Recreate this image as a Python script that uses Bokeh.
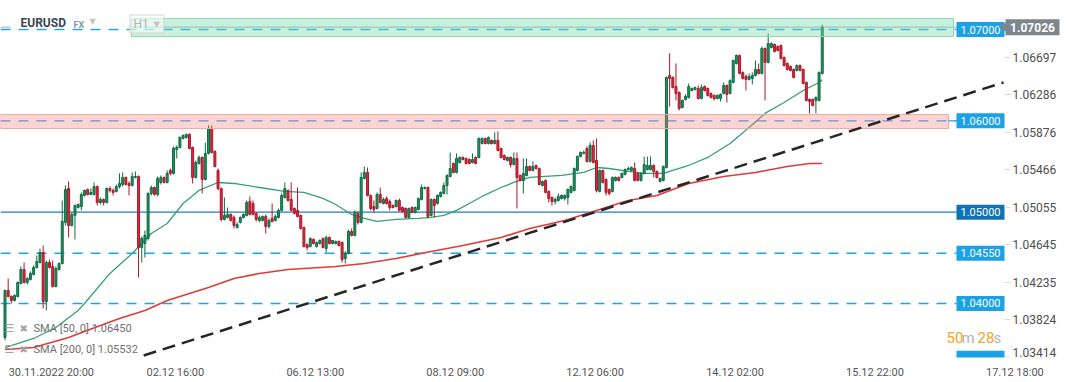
import math
from bokeh.plotting import figure
from bokeh.models import Range1d, FixedTicker, PrintfTickFormatter
from bokeh.models import ColumnDataSource
from bokeh.embed import file_html
from bokeh.resources import INLINE
from bokeh.core.properties import value

# ---------------- data (EURUSD, H1 candles) ----------------
opens = [1.03628, 1.04143, 1.04077, 1.04033, 1.04077, 1.04219, 1.04372, 1.04230, 1.04263, 1.04318,
         1.04394, 1.04449, 1.04559, 1.04022, 1.04449, 1.04405, 1.04186, 1.04372, 1.04438, 1.04887,
         1.05259, 1.04854, 1.04964, 1.05051, 1.05062, 1.05183, 1.05248, 1.05194, 1.05194, 1.05281,
         1.05106, 1.05139, 1.05106, 1.05259, 1.05238, 1.05227, 1.05281, 1.05303, 1.05380, 1.05314,
         1.05292, 1.05380, 1.05391, 1.04613, 1.04657, 1.04712, 1.05205, 1.05270, 1.05194, 1.05325,
         1.05380, 1.05325, 1.05457, 1.05424, 1.05686, 1.05708, 1.05807, 1.05818, 1.05851, 1.05708,
         1.05380, 1.05533, 1.05599, 1.05358, 1.05643, 1.05916, 1.05665, 1.05457, 1.05259, 1.04920,
         1.04942, 1.04975, 1.04942, 1.04832, 1.04887, 1.04942, 1.04964, 1.05117, 1.05095, 1.04986,
         1.04909, 1.04909, 1.04953, 1.04843, 1.04931, 1.04909, 1.04942, 1.05019, 1.05161, 1.05238,
         1.05139, 1.05040, 1.05019, 1.04964, 1.04832, 1.04646, 1.04624, 1.04701, 1.04624, 1.04657,
         1.04712, 1.04602, 1.04723, 1.04657, 1.04657, 1.04679, 1.04668, 1.04493, 1.04548, 1.04789,
         1.04745, 1.04986, 1.04887, 1.05369, 1.05435, 1.05183, 1.05062, 1.05040, 1.05194, 1.05095,
         1.05150, 1.05117, 1.05073, 1.05062, 1.05128, 1.05051, 1.05040, 1.04942, 1.05051, 1.04997,
         1.05029, 1.05139, 1.05259, 1.05270, 1.04964, 1.05139, 1.05095, 1.05172, 1.05205, 1.05292,
         1.05391, 1.05533, 1.05435, 1.05544, 1.05599, 1.05588, 1.05577, 1.05544, 1.05599, 1.05599,
         1.05752, 1.05807, 1.05752, 1.05785, 1.05752, 1.05785, 1.05697, 1.05621, 1.05566, 1.05599,
         1.05522, 1.05588, 1.05402, 1.05347, 1.05402, 1.05500, 1.05457, 1.05511, 1.05478, 1.05292,
         1.05347, 1.05227, 1.05161, 1.05117, 1.05128, 1.05150, 1.05150, 1.05161, 1.05216, 1.05238,
         1.05457, 1.05610, 1.05643, 1.05697, 1.05555, 1.05730, 1.05566, 1.05227, 1.05457, 1.05358,
         1.05248, 1.05227, 1.05347, 1.05380, 1.05380, 1.05413, 1.05467, 1.05457, 1.05478, 1.05424,
         1.05347, 1.05424, 1.05467, 1.05467, 1.05511, 1.05446, 1.05336, 1.05347, 1.05489, 1.06497,
         1.06475, 1.06376, 1.06311, 1.06146, 1.06234, 1.06256, 1.06332, 1.06343, 1.06354, 1.06245,
         1.06376, 1.06354, 1.06300, 1.06278, 1.06245, 1.06245, 1.06300, 1.06387, 1.06300, 1.06420,
         1.06628, 1.06716, 1.06530, 1.06486, 1.06453, 1.06464, 1.06497, 1.06562, 1.06519, 1.06792,
         1.06639, 1.06803, 1.06836, 1.06814, 1.06825, 1.06694, 1.06628, 1.06595, 1.06562, 1.06551,
         1.06606, 1.06562, 1.06420, 1.06234, 1.06234, 1.06223, 1.06223, 1.06519]

highs = [1.04153, 1.04274, 1.04088, 1.04099, 1.04241, 1.04405, 1.04449, 1.04285, 1.04351, 1.04416,
         1.04526, 1.04602, 1.04635, 1.04471, 1.04482, 1.04471, 1.04405, 1.04449, 1.05128, 1.05292,
         1.05336, 1.04997, 1.05084, 1.05095, 1.05216, 1.05248, 1.05259, 1.05259, 1.05325, 1.05292,
         1.05161, 1.05150, 1.05270, 1.05281, 1.05259, 1.05303, 1.05424, 1.05435, 1.05391, 1.05336,
         1.05435, 1.05446, 1.05402, 1.04734, 1.04800, 1.05216, 1.05292, 1.05281, 1.05391, 1.05402,
         1.05391, 1.05457, 1.05478, 1.05719, 1.05730, 1.05829, 1.05851, 1.05862, 1.05862, 1.05719,
         1.05566, 1.05621, 1.05610, 1.05763, 1.05949, 1.05949, 1.05676, 1.05478, 1.05270, 1.05161,
         1.05051, 1.04986, 1.04964, 1.04887, 1.04953, 1.04986, 1.05128, 1.05172, 1.05128, 1.04997,
         1.04964, 1.04964, 1.04975, 1.04931, 1.05095, 1.04975, 1.05040, 1.05205, 1.05325, 1.05248,
         1.05325, 1.05051, 1.05270, 1.04975, 1.04843, 1.04657, 1.04723, 1.04712, 1.04679, 1.04701,
         1.04723, 1.04745, 1.04734, 1.04690, 1.04690, 1.04690, 1.04679, 1.04570, 1.04810, 1.04821,
         1.05019, 1.05008, 1.05435, 1.05500, 1.05489, 1.05194, 1.05128, 1.05216, 1.05270, 1.05161,
         1.05172, 1.05139, 1.05084, 1.05139, 1.05150, 1.05062, 1.05051, 1.05051, 1.05062, 1.05062,
         1.05161, 1.05303, 1.05281, 1.05281, 1.05150, 1.05150, 1.05194, 1.05227, 1.05325, 1.05413,
         1.05654, 1.05544, 1.05643, 1.05610, 1.05610, 1.05599, 1.05588, 1.05643, 1.05610, 1.05818,
         1.05818, 1.05818, 1.05829, 1.05796, 1.05873, 1.05884, 1.05708, 1.05632, 1.05610, 1.05610,
         1.05654, 1.05654, 1.05413, 1.05588, 1.05588, 1.05511, 1.05555, 1.05522, 1.05489, 1.05347,
         1.05358, 1.05238, 1.05172, 1.05161, 1.05205, 1.05194, 1.05194, 1.05259, 1.05292, 1.05489,
         1.05621, 1.05665, 1.05676, 1.05719, 1.05763, 1.05785, 1.05807, 1.05467, 1.05467, 1.05369,
         1.05259, 1.05391, 1.05391, 1.05391, 1.05435, 1.05478, 1.05500, 1.05500, 1.05544, 1.05435,
         1.05435, 1.05610, 1.05610, 1.05610, 1.05522, 1.05457, 1.05380, 1.05511, 1.06486, 1.06738,
         1.06486, 1.06628, 1.06322, 1.06234, 1.06289, 1.06409, 1.06365, 1.06376, 1.06387, 1.06398,
         1.06387, 1.06365, 1.06311, 1.06289, 1.06289, 1.06300, 1.06420, 1.06398, 1.06453, 1.06672,
         1.06727, 1.06727, 1.06541, 1.06508, 1.06519, 1.06530, 1.06661, 1.06628, 1.06814, 1.06803,
         1.06957, 1.06858, 1.06847, 1.06825, 1.06836, 1.06705, 1.06639, 1.06606, 1.06573, 1.06617,
         1.06617, 1.06573, 1.06431, 1.06245, 1.06245, 1.06267, 1.06541, 1.07055]

lows = [1.03595, 1.04066, 1.04000, 1.04022, 1.04066, 1.04208, 1.04219, 1.04208, 1.04252, 1.04307,
        1.04383, 1.04438, 1.03945, 1.03924, 1.04383, 1.04175, 1.04175, 1.04362, 1.04427, 1.04854,
        1.04723, 1.04843, 1.04701, 1.05040, 1.05019, 1.05172, 1.05183, 1.05183, 1.05183, 1.05073,
        1.05084, 1.05073, 1.05095, 1.05216, 1.05183, 1.05216, 1.05259, 1.05281, 1.05292, 1.05183,
        1.05281, 1.05369, 1.04285, 1.04449, 1.04504, 1.04690, 1.05183, 1.05183, 1.05172, 1.05303,
        1.05314, 1.05314, 1.05402, 1.05413, 1.05588, 1.05697, 1.05796, 1.05807, 1.05686, 1.05314,
        1.05369, 1.05522, 1.05205, 1.05347, 1.05632, 1.05643, 1.05489, 1.05238, 1.04898, 1.04909,
        1.04931, 1.04898, 1.04821, 1.04821, 1.04876, 1.04931, 1.04953, 1.04964, 1.04964, 1.04898,
        1.04887, 1.04898, 1.04767, 1.04821, 1.04887, 1.04898, 1.04931, 1.05008, 1.05150, 1.05117,
        1.05008, 1.04975, 1.04942, 1.04810, 1.04613, 1.04581, 1.04613, 1.04646, 1.04613, 1.04646,
        1.04602, 1.04559, 1.04646, 1.04646, 1.04646, 1.04624, 1.04449, 1.04438, 1.04537, 1.04734,
        1.04734, 1.04865, 1.04876, 1.05358, 1.05172, 1.05019, 1.04997, 1.05029, 1.05095, 1.05084,
        1.05084, 1.05019, 1.05040, 1.05051, 1.05008, 1.04997, 1.04931, 1.04931, 1.04986, 1.04986,
        1.05019, 1.05128, 1.05248, 1.04931, 1.04953, 1.04942, 1.05084, 1.05161, 1.05194, 1.05194,
        1.05380, 1.05424, 1.05424, 1.05533, 1.05566, 1.05522, 1.05522, 1.05533, 1.05522, 1.05588,
        1.05741, 1.05741, 1.05741, 1.05741, 1.05741, 1.05665, 1.05588, 1.05566, 1.05555, 1.05489,
        1.05511, 1.05040, 1.05336, 1.05205, 1.05391, 1.05446, 1.05446, 1.05467, 1.05292, 1.05281,
        1.05205, 1.05106, 1.05073, 1.05084, 1.05117, 1.05139, 1.05128, 1.05084, 1.05205, 1.05227,
        1.05446, 1.05599, 1.05632, 1.05544, 1.05544, 1.05533, 1.05216, 1.05216, 1.05314, 1.05183,
        1.05183, 1.05216, 1.05336, 1.05336, 1.05369, 1.05402, 1.05457, 1.05446, 1.05336, 1.05336,
        1.05336, 1.05413, 1.05457, 1.05457, 1.05380, 1.05369, 1.05325, 1.05336, 1.05478, 1.06157,
        1.06354, 1.06223, 1.06113, 1.06135, 1.06223, 1.06245, 1.06322, 1.06332, 1.06234, 1.06234,
        1.06322, 1.06267, 1.06245, 1.06223, 1.06234, 1.06212, 1.06289, 1.06201, 1.06289, 1.06409,
        1.06617, 1.06508, 1.06453, 1.06332, 1.06442, 1.06398, 1.06486, 1.06508, 1.06508, 1.06223,
        1.06628, 1.06792, 1.06749, 1.06760, 1.06672, 1.06595, 1.06551, 1.06541, 1.06464, 1.06541,
        1.06541, 1.06398, 1.06212, 1.06081, 1.06157, 1.06081, 1.06212, 1.06508]

closes = [1.04143, 1.04077, 1.04033, 1.04088, 1.04230, 1.04372, 1.04230, 1.04274, 1.04329, 1.04394,
          1.04460, 1.04559, 1.04022, 1.04449, 1.04394, 1.04186, 1.04383, 1.04438, 1.04898, 1.05248,
          1.04854, 1.04975, 1.05073, 1.05084, 1.05194, 1.05238, 1.05194, 1.05216, 1.05281, 1.05106,
          1.05139, 1.05106, 1.05259, 1.05238, 1.05216, 1.05281, 1.05314, 1.05380, 1.05303, 1.05292,
          1.05391, 1.05391, 1.04613, 1.04712, 1.04745, 1.05205, 1.05270, 1.05194, 1.05369, 1.05380,
          1.05325, 1.05424, 1.05424, 1.05697, 1.05708, 1.05818, 1.05840, 1.05851, 1.05697, 1.05380,
          1.05544, 1.05599, 1.05358, 1.05643, 1.05916, 1.05654, 1.05500, 1.05259, 1.04920, 1.04964,
          1.04975, 1.04909, 1.04854, 1.04865, 1.04942, 1.04975, 1.05106, 1.04975, 1.04975, 1.04920,
          1.04942, 1.04953, 1.04843, 1.04909, 1.04898, 1.04953, 1.05019, 1.05183, 1.05259, 1.05128,
          1.05019, 1.04986, 1.04953, 1.04821, 1.04624, 1.04613, 1.04712, 1.04657, 1.04668, 1.04690,
          1.04613, 1.04723, 1.04657, 1.04690, 1.04679, 1.04635, 1.04482, 1.04548, 1.04789, 1.04745,
          1.04997, 1.04887, 1.05380, 1.05435, 1.05183, 1.05040, 1.05029, 1.05194, 1.05106, 1.05139,
          1.05095, 1.05051, 1.05051, 1.05128, 1.05019, 1.05008, 1.04942, 1.05040, 1.04997, 1.05051,
          1.05150, 1.05270, 1.05270, 1.04953, 1.05139, 1.05073, 1.05183, 1.05216, 1.05292, 1.05402,
          1.05478, 1.05435, 1.05588, 1.05599, 1.05577, 1.05533, 1.05533, 1.05577, 1.05533, 1.05807,
          1.05807, 1.05752, 1.05818, 1.05752, 1.05785, 1.05676, 1.05599, 1.05577, 1.05599, 1.05522,
          1.05588, 1.05380, 1.05347, 1.05424, 1.05500, 1.05457, 1.05500, 1.05478, 1.05303, 1.05336,
          1.05216, 1.05150, 1.05117, 1.05139, 1.05172, 1.05183, 1.05183, 1.05248, 1.05281, 1.05478,
          1.05610, 1.05654, 1.05654, 1.05555, 1.05730, 1.05544, 1.05238, 1.05457, 1.05325, 1.05216,
          1.05205, 1.05380, 1.05380, 1.05347, 1.05424, 1.05467, 1.05478, 1.05489, 1.05347, 1.05347,
          1.05424, 1.05522, 1.05511, 1.05511, 1.05446, 1.05380, 1.05369, 1.05500, 1.06475, 1.06464,
          1.06365, 1.06300, 1.06135, 1.06223, 1.06267, 1.06376, 1.06354, 1.06365, 1.06245, 1.06365,
          1.06332, 1.06278, 1.06256, 1.06245, 1.06278, 1.06289, 1.06387, 1.06289, 1.06442, 1.06661,
          1.06716, 1.06519, 1.06464, 1.06453, 1.06486, 1.06497, 1.06562, 1.06519, 1.06792, 1.06639,
          1.06847, 1.06847, 1.06760, 1.06770, 1.06683, 1.06606, 1.06562, 1.06551, 1.06475, 1.06606,
          1.06551, 1.06409, 1.06223, 1.06212, 1.06168, 1.06256, 1.06530, 1.07026]

# moving averages (bar index, value)
sma50_bars = [0, 9, 16, 23, 25, 33, 40, 46, 51, 56, 61, 67, 72, 80, 88, 94, 100, 104, 109, 113,
              117, 123, 130, 134, 138, 142, 146, 150, 156, 160, 165, 170, 175, 182, 186, 190, 196, 201, 207, 215,
              221, 228, 234, 239, 245, 251, 256, 257]
sma50_vals = [1.03518, 1.03617, 1.03737, 1.03924, 1.04000, 1.04329, 1.04548, 1.04767, 1.04876, 1.05095,
              1.05238, 1.05325, 1.05314, 1.05270, 1.05227, 1.05216, 1.05150, 1.05084, 1.04975, 1.04931,
              1.04898, 1.04920, 1.04931, 1.04942, 1.04964, 1.05019, 1.05095, 1.05172, 1.05270, 1.05325,
              1.05380, 1.05391, 1.05402, 1.05435, 1.05489, 1.05478, 1.05446, 1.05424, 1.05424, 1.05511,
              1.05599, 1.05752, 1.05927, 1.06081, 1.06201, 1.06332, 1.06420, 1.06450]
sma200_bars = [0, 9, 20, 30, 36, 44, 51, 64, 72, 80, 89, 104, 113, 123, 134, 144, 156, 165, 176, 186,
               196, 205, 215, 226, 236, 246, 253, 257]
sma200_vals = [1.03496, 1.03518, 1.03628, 1.03759, 1.03836, 1.03924, 1.04033, 1.04175, 1.04274, 1.04329,
               1.04372, 1.04405, 1.04438, 1.04493, 1.04570, 1.04635, 1.04723, 1.04821, 1.04909, 1.05019,
               1.05128, 1.05183, 1.05314, 1.05391, 1.05435, 1.05500, 1.05533, 1.05532]

trend_bars = [43.6, 314.0]
trend_vals = [1.03431, 1.06420]

level_vals = [1.07000, 1.06000, 1.05000, 1.04550, 1.04000]
level_texts = ["1.07000", "1.06000", "1.05000", "1.04550", "1.04000"]
bottom_level = 1.03400
green_zone = (1.06923, 1.07120)
red_zone = (1.05916, 1.06069)
last_price = 1.07026
last_price_text = "1.07026"

price_ticks = [1.06697, 1.06286, 1.05876, 1.05466, 1.05055, 1.04645, 1.04235, 1.03824, 1.03414]
time_tick_bars = [0, 44, 88, 132, 176, 220, 264, 308]
time_tick_texts = ["30.11.2022  20:00", "02.12  16:00", "06.12  13:00", "08.12  09:00",
                   "12.12  06:00", "14.12  02:00", "15.12  22:00", "17.12  18:00"]
legend_texts = ["SMA  [50,  0]  1.06450", "SMA  [200,  0]  1.05532"]

# ---------------- layout helpers (page pixels -> data) ----------------
W, H = 1072, 382
FRAME_H = 357
PXB = 3.18                 # pixels per hourly bar
PXY = 9133.0               # pixels per price unit
X0 = -4.5 / PXB
X1 = X0 + W / PXB
Y1 = 1.07 + 29 / PXY
Y0 = Y1 - FRAME_H / PXY


def bx(px):
    return X0 + px / PXB


def py(px):
    return Y1 - px / PXY


FONT = "Roboto"

p = figure(width=W, height=H, x_range=Range1d(X0, X1), y_range=Range1d(Y0, Y1),
           output_backend="svg", toolbar_location=None, y_axis_location="right",
           min_border_left=0, min_border_top=0, min_border_right=0,
           min_border_bottom=H - FRAME_H)
p.outline_line_color = None
p.grid.visible = False
p.background_fill_color = "white"
p.border_fill_color = "white"

# price axis drawn at the right end of the chart area
yax = p.yaxis[0]
yax.fixed_location = bx(1004)
yax.ticker = FixedTicker(ticks=price_ticks[:-1])
yax.formatter = PrintfTickFormatter(format="%.5f")
yax.axis_line_color = None
yax.major_tick_line_color = "#dcdcdc"
yax.major_tick_out = 6
yax.major_tick_in = 0
yax.minor_tick_line_color = None
yax.major_label_standoff = 2
yax.major_label_text_font = FONT
yax.major_label_text_font_size = "12px"
yax.major_label_text_color = "#4e4e4e"
# lowest price label is nudged up so it stays above the time labels
p.segment(x0=[bx(1004)], y0=[price_ticks[-1]], x1=[bx(1010)], y1=[price_ticks[-1]],
          line_color="#dcdcdc", line_width=1)
p.text(x=[bx(1012)], y=[py(352)], text=["%.5f" % price_ticks[-1]], text_align="left",
       text_baseline="middle", text_color="#4e4e4e", text_font=value(FONT), text_font_size="12px")

# time axis: labels start at their bar (centre shifted by half the label width)
half_w = [15, 10, 10, 10, 10, 10, 10, 10]
tick_pos = [b + h for b, h in zip(time_tick_bars, half_w)]
xax = p.xaxis[0]
xax.ticker = FixedTicker(ticks=tick_pos)
xax.major_label_overrides = {t: s for t, s in zip(tick_pos, time_tick_texts)}
xax.axis_line_color = None
xax.major_tick_line_color = None
xax.minor_tick_line_color = None
xax.major_label_standoff = 2
xax.major_label_text_font = FONT
xax.major_label_text_font_size = "11px"
xax.major_label_text_color = "#555555"

line_end = bx(956)

# horizontal levels
for lv in level_vals:
    if abs(lv - 1.05) < 1e-9:
        p.segment(x0=[X0], y0=[lv], x1=[line_end], y1=[lv], line_color="#1f7cbd", line_width=1.2)
    else:
        p.segment(x0=[X0], y0=[lv], x1=[line_end], y1=[lv], line_color="#1ea3ea",
                  line_width=1.3, line_dash="10 8")

# current price line
p.segment(x0=[X0], y0=[last_price], x1=[bx(1004)], y1=[last_price], line_color="#a3a9ae", line_width=1)

# moving averages
p.line(sma200_bars, sma200_vals, line_color="#e23a36", line_width=1.6)
p.line(sma50_bars, sma50_vals, line_color="#33a173", line_width=1.3)

# candles
idx = list(range(len(closes)))
up = [c >= o for o, c in zip(opens, closes)]
src = ColumnDataSource(dict(
    x=idx,
    hi=highs, lo=lows,
    top=[max(o, c) for o, c in zip(opens, closes)],
    bot=[min(o, c) for o, c in zip(opens, closes)],
    fill=["#1f9462" if u else "#e2283b" for u in up],
    edge=["#0f6a42" if u else "#a9182a" for u in up],
))
p.segment(x0="x", y0="lo", x1="x", y1="hi", line_color="edge", line_width=1, source=src)
p.vbar(x="x", width=0.62, top="top", bottom="bot", fill_color="fill", line_color="edge",
       line_width=1, source=src)

# zones (drawn over, translucent)
p.quad(left=[bx(131)], right=[bx(953)], bottom=[green_zone[0]], top=[green_zone[1]],
       fill_color="#7fdcb0", fill_alpha=0.42, line_color="#8ed8b4", line_width=1)
p.quad(left=[X0], right=[bx(948)], bottom=[red_zone[0]], top=[red_zone[1]],
       fill_color="#f77a7a", fill_alpha=0.32, line_color="#f3a6a6", line_width=1)
# short solid connector from the red zone to its tag
p.segment(x0=[bx(948)], y0=[1.06], x1=[line_end], y1=[1.06], line_color="#1ea3ea", line_width=1.3)

# trend line
p.line(trend_bars, trend_vals, line_color="#262626", line_width=2.5, line_dash="13 7")

# level tags
lab_x = bx(980)
tag_cols = ["#0f73b3" if abs(v - 1.05) < 1e-9 else "#1aa1e6" for v in level_vals]
p.rect(x=[lab_x] * len(level_vals), y=level_vals, width=48, height=15, width_units="screen",
       height_units="screen", fill_color=tag_cols, line_color=None)
p.rect(x=[lab_x], y=[bottom_level], width=48, height=15, width_units="screen",
       height_units="screen", fill_color="#1aa1e6", line_color=None)
p.text(x=[lab_x] * len(level_vals), y=level_vals, text=level_texts, text_align="center",
       text_baseline="middle", text_color="white", text_font=value(FONT), text_font_size="11px")

# current price tag
p.scatter(x=[bx(1005)], y=[last_price], marker="triangle", size=12, angle=math.pi / 2,
          fill_color="#7c868c", line_color=None)
p.rect(x=[bx(1032)], y=[last_price], width=54, height=16, width_units="screen",
       height_units="screen", fill_color="#7c868c", line_color=None)
p.text(x=[bx(1032)], y=[last_price], text=[last_price_text], text_align="center",
       text_baseline="middle", text_color="white", text_font=value(FONT), text_font_size="12px",
       text_font_style="bold")

# header
p.quad(left=[bx(10)], right=[bx(129)], bottom=[py(27.8)], top=[py(14)], fill_color="white",
       line_color=None)
p.rect(x=[bx(146.5)], y=[py(23.5)], width=34, height=18, width_units="screen",
       height_units="screen", fill_color="white", fill_alpha=0.55, line_color="#d3d3d3")
p.text(x=[bx(20)], y=[py(22.5)], text=["EURUSD"], text_baseline="middle", text_color="#3b4650",
       text_font=value(FONT), text_font_size="12px", text_font_style="bold")
p.text(x=[bx(73)], y=[py(24)], text=["FX"], text_baseline="middle", text_color="#8b98a4",
       text_font=value(FONT), text_font_size="9px", text_font_style="bold")
p.text(x=[bx(89), bx(153)], y=[py(21), py(23.5)], text=["▼", "▼"], text_baseline="middle",
       text_color="#c4c4c4", text_font=value("DejaVu Sans"), text_font_size="8px")
p.text(x=[bx(133)], y=[py(23.5)], text=["H1"], text_baseline="middle", text_color="#b3b3b3",
       text_font=value(FONT), text_font_size="12px")

# legend of indicators
p.text(x=[bx(4), bx(4)], y=[py(328), py(349)], text=["☰", "☰"], text_baseline="middle",
       text_color="#a3a3a3", text_font=value("DejaVu Sans"), text_font_size="11px")
p.text(x=[bx(19), bx(19)], y=[py(328), py(349)], text=["✖", "✖"], text_baseline="middle",
       text_color="#a3a3a3", text_font=value("DejaVu Sans"), text_font_size="10px")
p.text(x=[bx(33), bx(33)], y=[py(328), py(349)], text=legend_texts, text_baseline="middle",
       text_color="#6f6f6f", text_font=value(FONT), text_font_size="11px")

# countdown
p.text(x=[bx(946), bx(961), bx(977), bx(993)], y=[py(337)] * 4, text=["50", "m", "28", "s"],
       text_baseline="middle", text_color=["#f5a21f", "#b4b4b4", "#f5a21f", "#b4b4b4"],
       text_font=value(FONT), text_font_size="15px")

open("out.html", "w").write(file_html(p, INLINE))
